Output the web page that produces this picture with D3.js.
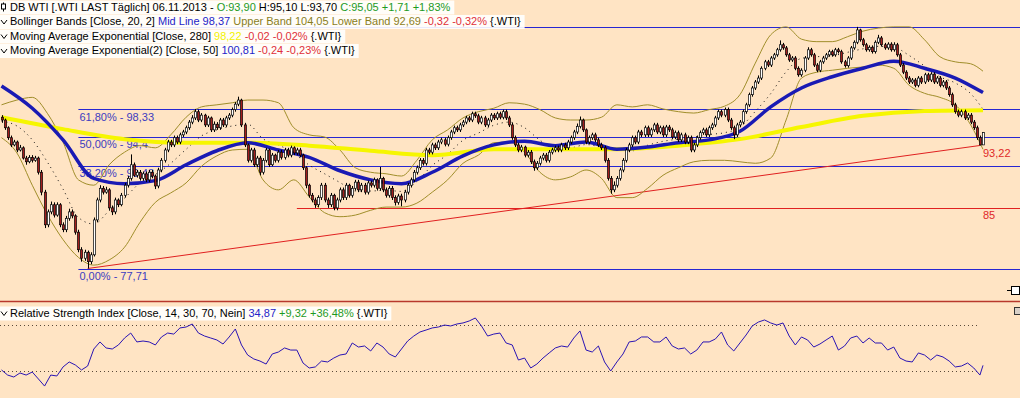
<!DOCTYPE html>
<html>
<head>
<meta charset="utf-8">
<script src="https://cdn.jsdelivr.net/npm/d3@7"></script>
<style>
  html, body { margin: 0; padding: 0; background: #ffe4c4; overflow: hidden; }
  svg { display: block; }
  text { font-family: "Liberation Sans", Arial, sans-serif; font-size: 11px; }
</style>
</head>
<body>
<div id="chart"></div>
<script>
// WTI daily candles (open = previous close)
var firstOpen = 97.2;
var closes = [
  96.8,95.7,94.3,93.3,93.7,92.6,92.9,91.5,91.0,91.6,
  91.2,91.5,89.6,87.0,82.9,84.5,85.4,84.1,85.4,82.9,
  82.3,83.7,84.5,84.0,82.0,79.9,78.9,79.6,78.5,79.3,
  83.5,86.0,87.5,87.0,87.3,85.0,84.5,86.0,85.4,86.6,
  87.9,88.8,90.6,89.2,89.6,88.8,89.4,88.6,89.6,89.1,
  87.8,89.9,91.2,92.6,93.7,93.3,94.3,93.7,94.7,95.1,
  95.7,96.5,97.1,98.0,96.8,97.5,96.1,97.1,95.4,96.2,
  95.7,96.8,96.1,97.1,97.5,98.3,99.1,99.7,96.1,93.3,
  91.2,92.6,90.6,91.5,89.6,91.2,92.6,90.6,91.9,91.2,
  92.3,91.6,92.6,91.9,92.9,92.2,92.6,91.9,90.2,87.9,
  86.6,86.0,85.4,86.3,87.9,86.0,85.4,86.6,85.0,86.0,
  87.3,86.3,87.9,86.6,87.5,88.3,87.3,87.9,87.0,88.2,
  87.9,88.6,87.5,88.8,87.3,86.6,87.5,86.3,85.7,86.5,
  86.0,87.0,87.9,88.6,89.6,90.2,91.2,90.8,92.6,92.3,
  93.3,92.9,93.7,94.0,93.4,94.3,95.1,95.7,95.4,96.1,
  96.5,97.1,96.8,97.7,97.4,96.5,97.1,96.1,96.8,97.5,
  97.1,97.7,97.2,98.0,97.1,96.1,94.3,93.3,92.6,93.0,
  91.9,92.3,91.0,90.2,90.8,91.5,91.9,91.2,92.3,92.6,
  92.9,92.6,93.3,92.9,93.7,94.3,95.1,95.9,96.8,95.4,
  93.7,94.3,94.7,94.0,93.3,92.9,91.2,88.8,87.3,87.9,
  88.8,89.9,91.2,92.6,93.3,94.3,93.7,95.1,94.7,95.7,
  94.7,95.4,96.1,95.1,95.7,94.7,95.8,95.4,94.4,95.0,
  94.0,94.7,93.7,94.3,92.6,93.3,94.3,95.0,95.4,94.7,
  95.7,96.1,97.1,98.0,97.5,98.3,96.8,95.7,94.7,96.1,
  96.5,98.0,99.0,100.5,101.5,102.4,103.0,104.5,105.5,105.0,
  106.1,106.6,107.4,108.2,107.7,106.6,105.8,106.1,104.5,103.5,
  104.2,106.1,107.4,106.6,105.0,104.2,105.5,106.1,106.6,107.1,
  106.6,107.4,107.1,105.5,104.9,106.1,107.7,108.6,110.6,109.0,
  108.2,107.4,107.8,107.1,108.6,109.3,108.2,107.7,108.3,107.4,
  108.2,106.6,105.0,103.9,103.0,102.4,102.7,101.9,103.0,102.4,
  103.5,102.7,103.6,102.4,103.0,101.9,102.4,101.5,100.5,99.0,
  98.0,97.5,98.0,97.1,97.5,96.5,95.7,94.3,93.3,95.05
];
var highs = [
  97.5,97.0,95.9,94.6,94.0,93.9,93.3,93.1,91.8,91.9,
  91.9,91.8,91.7,89.9,87.3,84.8,85.8,85.7,85.7,85.6,
  83.2,84.0,84.9,84.8,84.2,82.3,80.2,79.9,79.8,79.6,
  83.8,86.3,87.9,87.8,87.7,87.5,85.3,86.3,86.2,86.9,
  88.2,89.1,92.0,90.9,89.9,89.9,89.7,89.7,89.9,89.9,
  89.3,90.2,91.5,92.9,94.0,94.0,94.6,94.6,95.0,95.4,
  96.0,96.8,97.5,98.4,98.3,97.8,97.7,97.4,97.3,96.6,
  96.5,97.1,97.1,97.4,97.8,98.6,99.4,100.2,99.9,96.4,
  93.5,92.9,92.9,91.8,91.8,91.5,92.9,92.8,92.2,92.1,
  92.6,92.6,92.9,92.9,93.2,93.1,92.9,92.9,92.1,90.4,
  88.1,86.9,86.3,86.6,88.2,88.2,86.3,86.9,86.8,86.3,
  87.6,87.6,88.2,88.1,87.8,88.6,88.6,88.2,88.2,88.5,
  88.5,88.9,88.8,90.3,89.0,87.6,87.8,87.8,86.6,86.8,
  86.8,87.3,88.2,88.9,89.9,90.5,91.5,91.5,92.9,92.9,
  93.6,93.6,94.0,94.3,94.3,94.6,95.4,96.0,96.0,96.4,
  96.8,97.4,97.4,98.0,98.0,97.7,97.4,97.4,97.1,97.8,
  97.8,98.0,98.0,98.3,98.3,97.4,96.4,94.6,93.6,93.3,
  93.2,92.6,92.6,91.3,91.1,91.8,92.2,92.2,92.6,92.9,
  93.2,93.2,93.6,93.6,94.0,94.6,95.4,96.3,97.3,97.0,
  95.6,94.6,95.0,95.0,94.3,93.6,93.2,91.5,89.1,88.4,
  89.1,90.2,91.5,92.9,93.6,94.6,94.6,95.4,95.4,96.0,
  96.0,95.7,96.4,96.4,96.0,96.0,96.1,96.1,95.7,95.3,
  95.3,95.0,95.0,94.6,94.6,93.6,94.6,95.3,95.7,95.7,
  96.0,96.4,97.4,98.3,98.3,98.6,98.6,97.1,96.0,96.4,
  96.8,98.3,99.3,100.8,101.8,102.7,103.4,104.8,105.8,105.8,
  106.4,106.9,107.7,108.9,108.5,108.0,106.9,106.4,106.4,104.8,
  104.5,106.4,107.8,107.7,106.9,105.3,105.8,106.4,106.9,107.4,
  107.4,107.7,107.7,107.4,105.8,106.4,108.0,108.9,111.1,110.8,
  109.3,108.5,108.1,108.1,108.9,109.8,109.6,108.5,108.6,108.6,
  108.6,108.5,106.9,105.3,104.2,103.3,103.0,103.0,103.3,103.3,
  103.8,103.8,103.9,103.9,103.3,103.3,102.7,102.7,101.8,100.8,
  99.3,98.3,98.3,98.3,97.8,97.8,96.8,96.0,94.6,95.1
];
var lows = [
  96.4,95.4,94.0,93.0,93.1,92.3,92.4,91.3,90.6,90.8,
  90.9,91.0,89.3,86.6,82.5,82.6,84.2,83.8,83.9,82.6,
  82.0,82.0,83.4,83.7,81.7,79.6,78.5,78.6,77.71,78.2,
  79.1,83.2,85.7,86.7,86.8,84.7,84.1,84.2,85.1,85.2,
  86.3,87.6,88.5,89.0,88.9,88.5,88.5,88.3,88.3,88.8,
  87.4,87.5,89.6,90.9,92.3,93.0,93.0,93.4,93.4,94.4,
  94.8,95.4,96.2,96.8,96.5,96.5,95.8,95.8,95.1,95.1,
  95.4,95.4,95.8,95.8,96.8,97.2,98.0,98.8,95.8,93.0,
  90.9,90.9,90.3,90.3,89.2,89.3,90.9,90.3,90.4,90.9,
  90.9,91.3,91.3,91.6,91.6,91.9,91.9,91.6,89.9,87.5,
  86.3,85.7,85.0,85.1,86.0,85.7,85.0,85.1,84.7,84.7,
  85.7,86.0,86.0,86.3,86.3,87.2,87.0,87.0,86.7,86.7,
  87.6,87.6,87.2,87.2,87.0,86.3,86.3,86.0,85.3,85.4,
  85.2,85.7,86.7,87.6,88.3,89.3,89.9,90.5,90.5,92.0,
  92.0,92.6,92.6,93.4,93.1,93.1,94.0,94.8,95.1,95.1,
  95.8,96.2,96.5,96.5,97.1,96.2,96.2,95.8,95.8,96.5,
  96.8,96.8,96.9,96.9,96.8,95.8,94.0,93.0,92.3,92.3,
  91.6,91.6,90.7,89.8,89.9,90.5,91.2,90.9,90.9,92.0,
  92.3,92.3,92.3,92.6,92.6,93.4,94.0,94.8,95.6,95.1,
  93.4,93.4,94.0,93.7,93.0,92.6,90.9,88.5,86.8,87.0,
  87.6,88.5,89.6,90.9,92.3,93.0,93.4,93.4,94.4,94.4,
  94.4,94.4,95.1,94.8,94.8,94.4,94.4,95.1,94.1,94.1,
  93.7,93.7,93.4,93.4,92.3,92.3,93.0,94.0,94.7,94.4,
  94.4,95.4,95.8,96.8,97.2,97.2,96.5,95.4,94.1,94.4,
  95.8,96.2,97.7,98.7,100.2,101.2,102.1,102.7,104.2,104.7,
  104.7,105.8,106.3,107.1,107.4,106.3,105.5,105.5,104.2,103.2,
  103.2,103.9,105.8,106.3,104.7,103.9,103.9,105.2,105.8,106.3,
  106.3,106.3,106.8,105.2,104.6,104.6,105.8,107.4,108.3,108.7,
  107.9,107.1,107.1,106.8,106.8,108.3,107.9,107.4,107.4,107.1,
  107.1,106.3,104.7,103.6,102.7,102.1,102.1,101.6,101.6,102.1,
  102.1,102.4,102.4,102.1,102.1,101.6,101.6,101.2,100.2,98.7,
  97.7,97.2,97.2,96.8,96.8,96.2,95.4,94.0,93.22,93.3
];

// indicators, sampled every n candles (last sample = last candle)
var ema280Step = 20;
var ema280 = [97.2,95.5,94.1,93.6,93.6,93.2,92.5,91.9,92.7,92.7,92.7,93.2,94.1,95.8,97.4,98.1,98.22];
var ema50Step = 10;
var ema50 = [101.8,98.5,94.0,88.8,88.1,88.5,90.6,92.5,93.6,92.6,91.6,89.8,88.6,88.1,89.6,91.8,
  93.3,93.8,93.2,93.7,92.7,93.0,93.6,94.0,95.2,98.7,101.5,103.2,104.5,105.6,104.5,103.0,100.81];
var bandStep = 5;
var bbUpper = [99.0,99.7,100.1,97.7,93.7,88.6,87.9,90.6,92.3,93.2,
  92.9,94.7,97.2,98.7,99.0,99.3,99.7,99.7,99.3,95.7,
  94.7,94.4,92.6,90.2,89.6,89.4,89.1,91.2,94.0,95.4,
  97.1,98.0,98.5,99.3,99.1,98.3,97.1,96.8,96.8,97.2,
  99.0,98.7,99.0,98.4,98.0,97.8,98.3,98.8,100.5,105.3,
  109.8,111.1,109.1,108.7,108.7,109.5,110.4,110.9,111.1,111.1,
  109.0,106.3,105.5,105.2,104.05];
var bbLower = [94.3,92.2,87.9,84.1,81.1,79.0,78.1,78.7,80.2,83.2,
  85.7,86.9,88.2,90.4,91.8,92.6,92.7,88.6,87.3,88.6,
  86.4,84.4,83.9,84.1,84.7,85.1,85.1,85.6,87.0,88.6,
  90.8,91.9,93.6,93.7,92.3,89.6,88.6,89.0,89.9,88.8,
  86.3,86.3,87.5,89.2,90.2,91.0,91.2,91.2,91.0,90.8,
  91.5,96.8,103.0,103.9,104.2,104.5,104.7,105.0,104.5,101.9,
  100.7,100.1,99.0,96.1,92.69];
var rsiStep = 2;
var rsi = [
  30.9,26.5,24.8,28.3,26.5,29.1,23.1,17.0,26.5,25.7,
  33.5,37.8,35.2,30.9,34.3,49.0,55.1,49.9,49.0,52.5,
  58.5,62.8,55.1,55.9,55.1,52.5,59.4,62.8,61.9,67.2,
  68.0,70.6,62.8,60.2,58.5,56.8,53.3,59.4,66.3,52.5,
  43.8,40.4,38.6,36.0,44.7,46.4,49.9,48.1,48.1,36.9,
  32.6,33.5,38.6,37.8,41.2,43.8,44.7,54.2,50.7,51.6,
  47.3,54.2,50.7,44.7,42.1,49.0,55.9,60.2,63.7,65.4,
  67.2,68.0,69.7,68.9,70.6,71.5,73.2,75.8,68.9,60.2,
  61.9,62.8,54.2,52.5,39.5,41.2,32.6,36.0,41.2,45.6,
  49.9,51.6,50.7,58.5,64.6,48.1,46.4,51.6,37.8,30.0,
  37.8,44.7,55.1,55.9,59.4,59.4,55.1,55.1,59.4,51.6,
  49.0,49.9,44.7,48.1,55.1,55.1,57.6,63.7,52.5,47.3,
  54.2,61.1,68.9,72.3,74.1,71.5,69.7,71.5,60.2,52.5,
  59.4,56.8,50.7,53.3,56.8,60.2,48.1,51.6,58.5,60.2,
  54.2,58.5,54.2,54.2,48.1,50.7,41.2,38.6,37.8,45.6,
  43.8,39.5,43.8,42.1,38.6,33.5,34.3,36.9,32.6,26.5,
  34.87
];
var rsiLevels = [70, 30];

// drawing tools
var fibStart = 25;
var fibLevels = [
  { label: "100,00% - 111,08", value: 111.08 },
  { label: "61,80% - 98,33", value: 98.33 },
  { label: "50,00% - 94,4", value: 94.4 },
  { label: "38,20% - 90,48", value: 90.48 },
  { label: "0,00% - 77,71", value: 77.71 }
];
var supportLine = { start: 96, value: 85, label: "85" };
var trendLine = [{ i: 28, v: 77.71 }, { i: 318, v: 93.22 }];
var trendLabel = "93,22";

// legend rows
var green = "#1e9a1e", red = "#e0303a", blue = "#2424c8", olive = "#8a7e1c", yellow = "#f2f200";
var legendRows = [
  [["DB WTI [.WTI LAST Täglich] 06.11.2013 - ", "#000"], ["O:93,90 ", green], ["H:95,10 L:93,70 ", "#000"], ["C:95,05 +1,71 +1,83%", green]],
  [["Bollinger Bands [Close, 20, 2] ", "#000"], ["Mid Line 98,37 ", blue], ["Upper Band 104,05 Lower Band 92,69 ", olive], ["-0,32 -0,32% ", red], ["{.WTI}", "#000"]],
  [["Moving Average Exponential [Close, 280] ", "#000"], ["98,22 ", yellow], ["-0,02 -0,02% ", red], ["{.WTI}", "#000"]],
  [["Moving Average Exponential(2) [Close, 50] ", "#000"], ["100,81 ", blue], ["-0,24 -0,23% ", red], ["{.WTI}", "#000"]]
];
var rsiLegend = [["Relative Strength Index [Close, 14, 30, 70, Nein] ", "#000"], ["34,87 ", blue], ["+9,32 +36,48% ", green], ["{.WTI}", "#000"]];

(function() {
  var width = 1020, height = 398;
  var n = closes.length;

  var svg = d3.select("#chart")
    .append("svg")
    .attr("width", width)
    .attr("height", height);

  svg.append("rect").attr("width", width).attr("height", height).attr("fill", "#ffe4c4");

  var xPositionScale = d3.scaleLinear().domain([0, n - 1]).range([1.5, 983]);
  var yPositionScale = d3.scaleLog().domain([77.71, 111.08]).range([268.5, 27]);
  var rsiScale = d3.scaleLinear().domain([30, 70]).range([371, 324.7]);

  var candles = closes.map(function(c, i) {
    var o = i === 0 ? firstOpen : closes[i - 1];
    return {
      i: i, o: o, c: c,
      h: Math.max(highs[i], o, c),
      l: Math.min(lows[i], o, c)
    };
  });

  function sampled(values, step) {
    return values.map(function(v, k) { return { i: Math.min(k * step, n - 1), v: v }; });
  }

  var priceLine = d3.line()
    .x(function(d) { return xPositionScale(d.i); })
    .y(function(d) { return yPositionScale(d.v); });
  var smoothLine = d3.line().curve(d3.curveMonotoneX)
    .x(function(d) { return xPositionScale(d.i); })
    .y(function(d) { return yPositionScale(d.v); });

  var main = svg.append("g").attr("class", "main");

  // fibonacci retracement
  main.selectAll(".fib-line")
    .data(fibLevels)
    .enter().append("line")
    .attr("class", "fib-line")
    .attr("x1", xPositionScale(fibStart))
    .attr("x2", width)
    .attr("y1", function(d) { return Math.round(yPositionScale(d.value)) + 0.5; })
    .attr("y2", function(d) { return Math.round(yPositionScale(d.value)) + 0.5; })
    .attr("stroke", "#2626d2")
    .attr("stroke-width", 1);

  main.selectAll(".fib-label")
    .data(fibLevels)
    .enter().append("text")
    .attr("class", "fib-label")
    .attr("x", xPositionScale(fibStart) + 1)
    .attr("y", function(d) { return yPositionScale(d.value) + 11.5; })
    .attr("fill", "#3c3cc0")
    .text(function(d) { return d.label; });

  // support and trend line
  main.append("line")
    .attr("x1", xPositionScale(supportLine.start))
    .attr("x2", width)
    .attr("y1", Math.round(yPositionScale(supportLine.value)) + 0.5)
    .attr("y2", Math.round(yPositionScale(supportLine.value)) + 0.5)
    .attr("stroke", "#e02020");

  main.append("path")
    .datum(trendLine)
    .attr("d", priceLine)
    .attr("fill", "none")
    .attr("stroke", "#e02020")
    .attr("stroke-width", 1);

  // bollinger bands
  var upper = sampled(bbUpper, bandStep);
  var lower = sampled(bbLower, bandStep);
  var mid = upper.map(function(d, k) { return { i: d.i, v: (d.v + lower[k].v) / 2 }; });

  [upper, lower].forEach(function(band) {
    main.append("path")
      .datum(band)
      .attr("d", smoothLine)
      .attr("fill", "none")
      .attr("stroke", "#a08e2a")
      .attr("stroke-width", 1);
  });
  main.append("path")
    .datum(mid)
    .attr("d", smoothLine)
    .attr("fill", "none")
    .attr("stroke", "#111")
    .attr("stroke-width", 1)
    .attr("stroke-dasharray", "1,4");

  // moving averages
  main.append("path")
    .datum(sampled(ema280, ema280Step))
    .attr("d", smoothLine)
    .attr("fill", "none")
    .attr("stroke", "#f6f600")
    .attr("stroke-width", 4);

  main.append("path")
    .datum(sampled(ema50, ema50Step))
    .attr("d", smoothLine)
    .attr("fill", "none")
    .attr("stroke", "#1a1ab4")
    .attr("stroke-width", 3.5);

  // candles
  var candle = main.selectAll(".candle")
    .data(candles)
    .enter().append("g")
    .attr("class", "candle");

  candle.append("line")
    .attr("x1", function(d) { return Math.round(xPositionScale(d.i)) + 0.5; })
    .attr("x2", function(d) { return Math.round(xPositionScale(d.i)) + 0.5; })
    .attr("y1", function(d) { return yPositionScale(d.h); })
    .attr("y2", function(d) { return yPositionScale(d.l); })
    .attr("stroke", "#000")
    .attr("stroke-width", 1);

  candle.append("rect")
    .attr("x", function(d) { return Math.round(xPositionScale(d.i)) - 0.5; })
    .attr("width", 2)
    .attr("y", function(d) { return yPositionScale(Math.max(d.o, d.c)); })
    .attr("height", function(d) {
      return Math.max(1, yPositionScale(Math.min(d.o, d.c)) - yPositionScale(Math.max(d.o, d.c)));
    })
    .attr("fill", function(d) { return d.c >= d.o ? "#ffffff" : "#a31e1e"; })
    .attr("stroke", "#000")
    .attr("stroke-width", 0.7);

  // labels of the red lines
  main.append("text")
    .attr("x", 983)
    .attr("y", yPositionScale(trendLine[1].v) + 12)
    .attr("fill", "#e02828")
    .text(trendLabel);
  main.append("text")
    .attr("x", 983)
    .attr("y", yPositionScale(supportLine.value) + 11.5)
    .attr("fill", "#e02828")
    .text(supportLine.label);

  // panel separator and small window buttons
  svg.append("line")
    .attr("x1", 0).attr("x2", width)
    .attr("y1", 301.5).attr("y2", 301.5)
    .attr("stroke", "#b8382c")
    .attr("stroke-width", 1.5);
  svg.append("line").attr("x1", 1007).attr("x2", 1011).attr("y1", 290.5).attr("y2", 290.5).attr("stroke", "#000");
  svg.append("rect").attr("x", 1011.5).attr("y", 286.5).attr("width", 8).attr("height", 8)
    .attr("fill", "#fff").attr("stroke", "#000");
  svg.append("rect").attr("x", 1014.5).attr("y", 307.5).attr("width", 6).attr("height", 7)
    .attr("fill", "#d8d0c8").attr("stroke", "#333");

  // RSI panel
  var rsiG = svg.append("g").attr("class", "rsi");
  rsiG.selectAll(".rsi-level")
    .data(rsiLevels)
    .enter().append("line")
    .attr("x1", 0).attr("x2", 980)
    .attr("y1", function(d) { return Math.round(rsiScale(d)) + 0.5; })
    .attr("y2", function(d) { return Math.round(rsiScale(d)) + 0.5; })
    .attr("stroke", "#5a4a3a")
    .attr("stroke-dasharray", "1,3");

  var rsiLine = d3.line()
    .x(function(d) { return xPositionScale(d.i); })
    .y(function(d) { return rsiScale(d.v); });
  rsiG.append("path")
    .datum(sampled(rsi, rsiStep))
    .attr("d", rsiLine)
    .attr("fill", "none")
    .attr("stroke", "#2a14b4")
    .attr("stroke-width", 1);

  // legends
  function legendRow(parts, y, icon) {
    var g = svg.append("g");
    var bg = g.append("rect").attr("x", 0).attr("y", y - 10).attr("height", 14)
      .attr("fill", "#ffffff").attr("opacity", 0.9);
    if (icon === "candle") {
      g.append("line").attr("x1", 3.5).attr("x2", 3.5).attr("y1", y - 8).attr("y2", y + 1).attr("stroke", "#000");
      g.append("rect").attr("x", 1.5).attr("y", y - 6.5).attr("width", 4).attr("height", 5)
        .attr("fill", "#fff").attr("stroke", "#000");
    } else {
      g.append("path").attr("d", "M1," + (y - 5) + " L4," + (y - 1) + " L7," + (y - 5))
        .attr("fill", "none").attr("stroke", "#000");
    }
    var t = g.append("text").attr("x", 10).attr("y", y);
    parts.forEach(function(p) {
      t.append("tspan").attr("fill", p[1]).attr("xml:space", "preserve").text(p[0]);
    });
    bg.attr("width", 10 + t.node().getComputedTextLength() + 4);
  }

  var legendY = [10.5, 25, 39.5, 54];
  legendRows.forEach(function(row, k) {
    legendRow(row, legendY[k], k === 0 ? "candle" : "wave");
  });
  legendRow(rsiLegend, 316.5, "wave");
})();
</script>
</body>
</html>
